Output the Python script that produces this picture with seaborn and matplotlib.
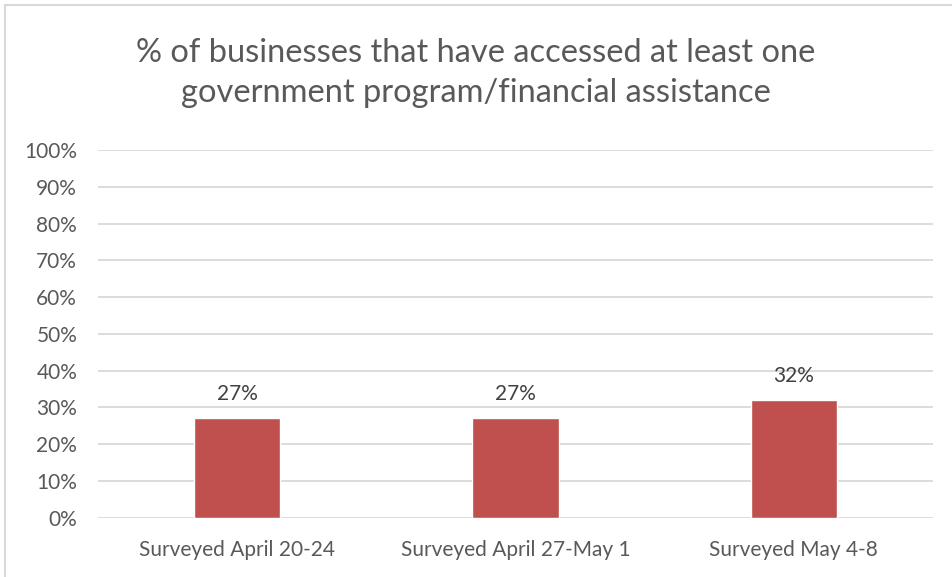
import matplotlib
matplotlib.use("Agg")
import matplotlib.pyplot as plt
import seaborn as sns
import pandas as pd
from matplotlib.ticker import PercentFormatter
from matplotlib.lines import Line2D

categories = ["Surveyed April 20-24", "Surveyed April 27-May 1", "Surveyed May 4-8"]
values = [27, 27, 32]
title = "% of businesses that have accessed at least one\ngovernment program/financial assistance"

df = pd.DataFrame({"survey": categories, "pct": values})

sns.set_theme(style="white")
plt.rcParams["font.family"] = ["Lato", "DejaVu Sans"]

text_color = "#595959"
grid_color = "#D9D9D9"
bar_color = "#C0504D"

fig = plt.figure(figsize=(9.52, 5.77), dpi=100)
ax = fig.add_axes([0.103, 0.103, 0.877, 0.637])

sns.barplot(data=df, x="survey", y="pct", color=bar_color, width=0.31,
            saturation=1, ax=ax, zorder=3)

ax.set_ylim(0, 100)
ax.set_yticks(range(0, 101, 10))
ax.yaxis.set_major_formatter(PercentFormatter(decimals=0))
ax.grid(axis="y", color=grid_color, linewidth=1.3, zorder=0)
ax.set_axisbelow(True)
for s in ax.spines.values():
    s.set_visible(False)
ax.tick_params(axis="both", length=0, labelsize=15, colors=text_color)
ax.tick_params(axis="y", pad=15)
ax.tick_params(axis="x", pad=16)
ax.set_xlabel("")
ax.set_ylabel("")

for c in ax.containers:
    ax.bar_label(c, labels=[f"{v}%" for v in values], padding=10,
                 fontsize=15, color="#404040")

fig.text(0.5, 0.874, title, ha="center", va="center", fontsize=23.5,
         color=text_color, linespacing=1.42)

# chart frame (top and left edges visible in the crop)
fig.add_artist(Line2D([5 / 952, 5 / 952], [0, 1 - 5 / 577],
                      transform=fig.transFigure, color=grid_color, lw=1.5))
fig.add_artist(Line2D([5 / 952, 1], [1 - 5 / 577, 1 - 5 / 577],
                      transform=fig.transFigure, color=grid_color, lw=1.5))

fig.savefig("out.png", dpi=100)
